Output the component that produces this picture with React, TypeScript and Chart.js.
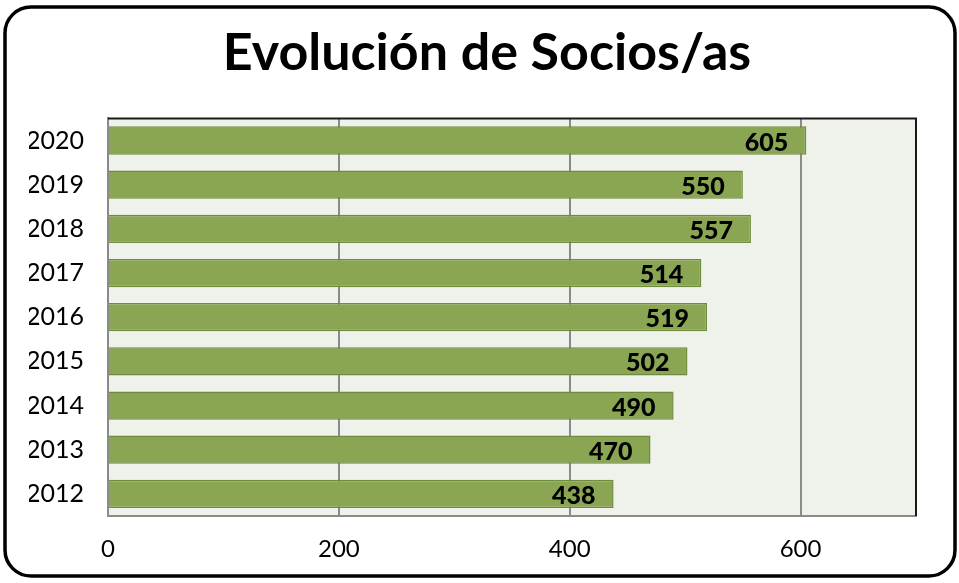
import React, { useEffect, useRef } from "react";
import { Chart, registerables } from "chart.js";

Chart.register(...registerables);

const TITLE = "Evolución de Socios/as";
const YEARS = ["2020", "2019", "2018", "2017", "2016", "2015", "2014", "2013", "2012"];
const SOCIOS = [605, 550, 557, 514, 519, 502, 490, 470, 438];
const X_MIN = 0;
const X_MAX = 700;
const X_STEP = 200;

const FONT = "Lato, 'Noto Sans', sans-serif";

const frameAndBg = {
  id: "frameAndBg",
  beforeDraw(chart: any) {
    const ctx = chart.ctx;
    const a = chart.chartArea;
    ctx.save();
    ctx.fillStyle = "#ffffff";
    ctx.fillRect(0, 0, chart.width, chart.height);
    ctx.fillStyle = "#eff2ea";
    ctx.fillRect(a.left, a.top, a.right - a.left, a.bottom - a.top);
    ctx.strokeStyle = "#000000";
    ctx.lineWidth = 3.5;
    const x0 = 5, y0 = 7, x1 = 955, y1 = 576, r = 26;
    ctx.beginPath();
    ctx.moveTo(x0 + r, y0);
    ctx.lineTo(x1 - r, y0);
    ctx.arcTo(x1, y0, x1, y0 + r, r);
    ctx.lineTo(x1, y1 - r);
    ctx.arcTo(x1, y1, x1 - r, y1, r);
    ctx.lineTo(x0 + r, y1);
    ctx.arcTo(x0, y1, x0, y1 - r, r);
    ctx.lineTo(x0, y0 + r);
    ctx.arcTo(x0, y0, x0 + r, y0, r);
    ctx.closePath();
    ctx.stroke();
    ctx.restore();
  },
  afterDraw(chart: any) {
    const ctx = chart.ctx;
    const a = chart.chartArea;
    ctx.save();
    ctx.strokeStyle = "#1a1a1a";
    ctx.lineWidth = 2;
    ctx.beginPath();
    ctx.moveTo(a.left, a.top);
    ctx.lineTo(a.right, a.top);
    ctx.lineTo(a.right, a.bottom);
    ctx.stroke();
    ctx.restore();
  },
};

const valueLabels = {
  id: "valueLabels",
  afterDatasetsDraw(chart: any) {
    const ctx = chart.ctx;
    const meta = chart.getDatasetMeta(0);
    const data = chart.data.datasets[0].data;
    ctx.save();
    ctx.fillStyle = "#000000";
    ctx.font = `900 25px ${FONT}`;
    ctx.textAlign = "right";
    ctx.textBaseline = "middle";
    meta.data.forEach((bar: any, i: number) => {
      ctx.fillText(String(data[i]), bar.x - 18, bar.y + 2);
    });
    ctx.restore();
  },
};

export default function App() {
  const ref = useRef<HTMLCanvasElement | null>(null);

  useEffect(() => {
    document.body.style.margin = "0";
    if (!ref.current) return;
    const chart = new Chart(ref.current, {
      type: "bar",
      data: {
        labels: YEARS,
        datasets: [
          {
            data: SOCIOS,
            backgroundColor: "#8ba652",
            borderColor: "#6f8b3e",
            borderWidth: 1.5,
            barPercentage: 0.64,
            categoryPercentage: 1,
          },
        ],
      },
      options: {
        indexAxis: "y",
        responsive: false,
        animation: false,
        layout: { padding: { left: 29, right: 14, top: 0, bottom: 0 } },
        plugins: {
          legend: { display: false },
          tooltip: { enabled: false },
          title: {
            display: true,
            text: TITLE,
            color: "#000000",
            font: { family: FONT, size: 52, weight: "bold" },
            padding: { top: 22, bottom: 34 },
          },
        },
        scales: {
          x: {
            min: X_MIN,
            max: X_MAX,
            ticks: {
              stepSize: X_STEP,
              color: "#000000",
              font: { family: FONT, size: 24 },
              padding: 19,
              callback: (v: any) => (v === X_MAX ? "" : String(v)),
            },
            grid: {
              drawTicks: false,
              color: (c: any) =>
                c.tick && (c.tick.value === X_MIN || c.tick.value === X_MAX) ? "rgba(0,0,0,0)" : "#8a8a8a",
              lineWidth: 2,
            },
            border: { display: true, color: "#8a8a8a", width: 2 },
            afterFit: (s: any) => {
              s.height = 67;
            },
          },
          y: {
            ticks: {
              color: "#000000",
              font: { family: FONT, size: 25 },
              padding: 24,
            },
            grid: { display: false, drawTicks: false },
            border: { display: true, color: "#8a8a8a", width: 2 },
            afterFit: (s: any) => {
              s.width = 79;
            },
          },
          yRight: {
            position: "right",
            display: true,
            ticks: { display: false },
            grid: { display: false, drawTicks: false },
            border: { display: false },
            afterFit: (s: any) => {
              s.width = 29;
            },
          },
        },
      },
      plugins: [frameAndBg, valueLabels],
    });
    return () => chart.destroy();
  }, []);

  return (
    <div style={{ width: 959, height: 583 }}>
      <canvas ref={ref} width={959} height={583} />
    </div>
  );
}
